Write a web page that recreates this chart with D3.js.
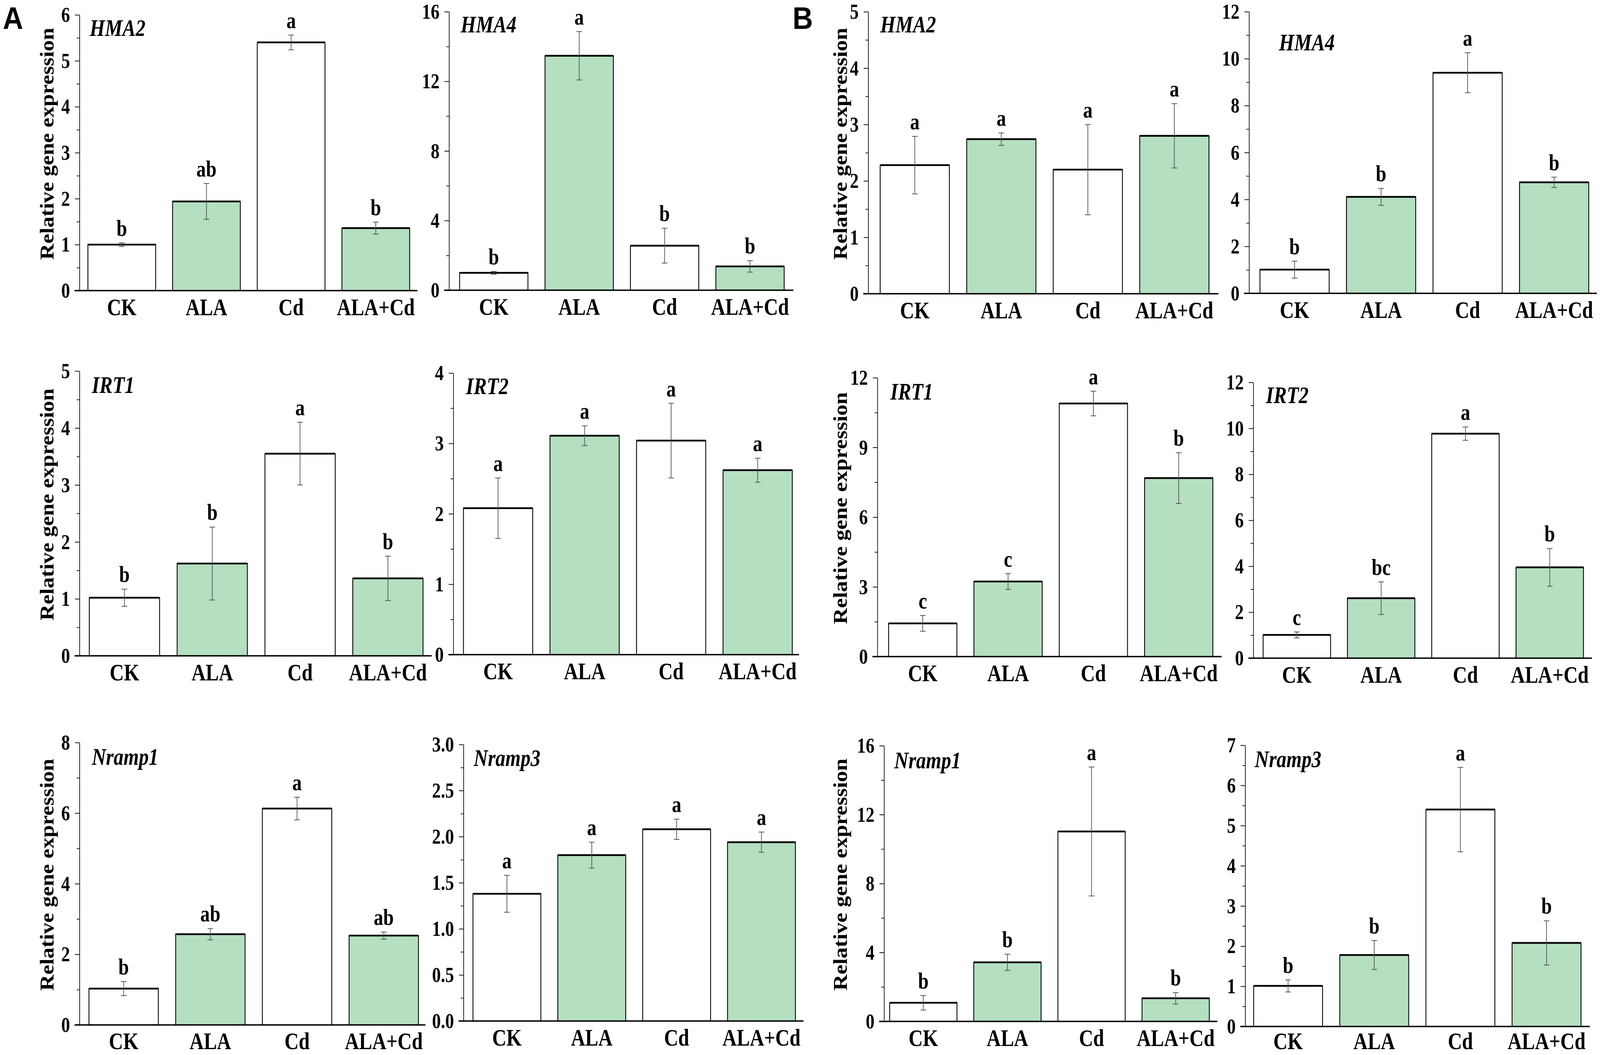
<!DOCTYPE html>
<html>
<head>
<meta charset="utf-8">
<script src="https://cdn.jsdelivr.net/npm/d3@7"></script>
<style>
  html, body { margin: 0; padding: 0; background: #fff; overflow: hidden; }
  svg { display: block; width: 100vw; height: 100vh; }
</style>
</head>
<body>
<div id="chart"></div>
<script>
// treatment groups, same order in every panel
const groups = ["CK", "ALA", "Cd", "ALA+Cd"];

// panel A (left half)
const meanA_HMA2 = [1.00, 1.94, 5.40, 1.36];
const errA_HMA2  = [0.04, 0.39, 0.16, 0.13];
const sigA_HMA2  = ["b", "ab", "a", "b"];

const meanA_HMA4 = [1.00, 13.47, 2.56, 1.37];
const errA_HMA4  = [0.08, 1.39, 1.00, 0.33];
const sigA_HMA4  = ["b", "a", "b", "b"];

const meanA_IRT1 = [1.02, 1.62, 3.55, 1.36];
const errA_IRT1  = [0.15, 0.64, 0.55, 0.39];
const sigA_IRT1  = ["b", "b", "a", "b"];

const meanA_IRT2 = [2.08, 3.11, 3.04, 2.62];
const errA_IRT2  = [0.43, 0.14, 0.53, 0.17];
const sigA_IRT2  = ["a", "a", "a", "a"];

const meanA_Nramp1 = [1.03, 2.57, 6.13, 2.53];
const errA_Nramp1  = [0.20, 0.16, 0.32, 0.10];
const sigA_Nramp1  = ["b", "ab", "a", "ab"];

const meanA_Nramp3 = [1.38, 1.80, 2.08, 1.94];
const errA_Nramp3  = [0.20, 0.14, 0.11, 0.11];
const sigA_Nramp3  = ["a", "a", "a", "a"];

// panel B (right half)
const meanB_HMA2 = [2.28, 2.74, 2.20, 2.80];
const errB_HMA2  = [0.51, 0.11, 0.80, 0.57];
const sigB_HMA2  = ["a", "a", "a", "a"];

const meanB_HMA4 = [1.01, 4.11, 9.40, 4.73];
const errB_HMA4  = [0.36, 0.36, 0.85, 0.22];
const sigB_HMA4  = ["b", "b", "a", "b"];

const meanB_IRT1 = [1.43, 3.23, 10.89, 7.68];
const errB_IRT1  = [0.34, 0.34, 0.53, 1.09];
const sigB_IRT1  = ["c", "c", "a", "b"];

const meanB_IRT2 = [1.01, 2.61, 9.77, 3.95];
const errB_IRT2  = [0.13, 0.71, 0.29, 0.82];
const sigB_IRT2  = ["c", "bc", "a", "b"];

const meanB_Nramp1 = [1.08, 3.43, 11.02, 1.34];
const errB_Nramp1  = [0.42, 0.47, 3.74, 0.33];
const sigB_Nramp1  = ["b", "b", "a", "b"];

const meanB_Nramp3 = [1.01, 1.78, 5.40, 2.08];
const errB_Nramp3  = [0.15, 0.36, 1.05, 0.55];
const sigB_Nramp3  = ["b", "b", "a", "b"];

// y axis ticks (major) per panel
const ticksA_HMA2   = [0, 1, 2, 3, 4, 5, 6];
const ticksA_HMA4   = [0, 4, 8, 12, 16];
const ticksA_IRT1   = [0, 1, 2, 3, 4, 5];
const ticksA_IRT2   = [0, 1, 2, 3, 4];
const ticksA_Nramp1 = [0, 2, 4, 6, 8];
const ticksA_Nramp3 = [0, 0.5, 1.0, 1.5, 2.0, 2.5, 3.0];
const ticksB_HMA2   = [0, 1, 2, 3, 4, 5];
const ticksB_HMA4   = [0, 2, 4, 6, 8, 10, 12];
const ticksB_IRT1   = [0, 3, 6, 9, 12];
const ticksB_IRT2   = [0, 2, 4, 6, 8, 10, 12];
const ticksB_Nramp1 = [0, 4, 8, 12, 16];
const ticksB_Nramp3 = [0, 1, 2, 3, 4, 5, 6, 7];

const W = 4550, H = 2701;
const serif = "'Liberation Serif', 'Times New Roman', Times, serif";
const green = "#b4dfc0";
// the original lettering is a bit taller than plain Times
const stretch = "scale(1,1.09)";

// layout of each panel (in viewBox units)
const panels = [
  {gene: "HMA2",   mean: meanA_HMA2,   err: errA_HMA2,   sig: sigA_HMA2,   ticks: ticksA_HMA2,   fmt: "d",
   ax: 226,  top: 38,   bottom: 744,  barL: 250,  barR: 1165, axEnd: 1187, lx: 29, ly: 54, title: 152},
  {gene: "HMA4",   mean: meanA_HMA4,   err: errA_HMA4,   sig: sigA_HMA4,   ticks: ticksA_HMA4,   fmt: "d",
   ax: 1277, top: 30,   bottom: 743,  barL: 1307, barR: 2230, axEnd: 2256, lx: 33, ly: 53},
  {gene: "HMA2",   mean: meanB_HMA2,   err: errB_HMA2,   sig: sigB_HMA2,   ticks: ticksB_HMA2,   fmt: "d",
   ax: 2469, top: 30,   bottom: 752,  barL: 2503, barR: 3438, axEnd: 3465, lx: 34, ly: 53, title: 2408},
  {gene: "HMA4",   mean: meanB_HMA4,   err: errB_HMA4,   sig: sigB_HMA4,   ticks: ticksB_HMA4,   fmt: "d",
   ax: 3552, top: 30,   bottom: 751,  barL: 3583, barR: 4518, axEnd: 4541, lx: 85, ly: 99},
  {gene: "IRT1",   mean: meanA_IRT1,   err: errA_IRT1,   sig: sigA_IRT1,   ticks: ticksA_IRT1,   fmt: "d",
   ax: 226,  top: 950,  bottom: 1679, barL: 254,  barR: 1203, axEnd: 1228, lx: 35, ly: 56, title: 152},
  {gene: "IRT2",   mean: meanA_IRT2,   err: errA_IRT2,   sig: sigA_IRT2,   ticks: ticksA_IRT2,   fmt: "d",
   ax: 1289, top: 955,  bottom: 1676, barL: 1318, barR: 2253, axEnd: 2272, lx: 36, ly: 54},
  {gene: "IRT1",   mean: meanB_IRT1,   err: errB_IRT1,   sig: sigB_IRT1,   ticks: ticksB_IRT1,   fmt: "d",
   ax: 2495, top: 967,  bottom: 1681, barL: 2527, barR: 3449, axEnd: 3474, lx: 37, ly: 56, title: 2408},
  {gene: "IRT2",   mean: meanB_IRT2,   err: errB_IRT2,   sig: sigB_IRT2,   ticks: ticksB_IRT2,   fmt: "d",
   ax: 3564, top: 979,  bottom: 1685, barL: 3592, barR: 4503, axEnd: 4527, lx: 36, ly: 53},
  {gene: "Nramp1", mean: meanA_Nramp1, err: errA_Nramp1, sig: sigA_Nramp1, ticks: ticksA_Nramp1, fmt: "d",
   ax: 226,  top: 1901, bottom: 2624, barL: 253,  barR: 1190, axEnd: 1210, lx: 35, ly: 57, title: 152},
  {gene: "Nramp3", mean: meanA_Nramp3, err: errA_Nramp3, sig: sigA_Nramp3, ticks: ticksA_Nramp3, fmt: ".1f",
   ax: 1318, top: 1906, bottom: 2614, barL: 1345, barR: 2262, axEnd: 2285, lx: 29, ly: 55},
  {gene: "Nramp1", mean: meanB_Nramp1, err: errB_Nramp1, sig: sigB_Nramp1, ticks: ticksB_Nramp1, fmt: "d",
   ax: 2514, top: 1909, bottom: 2615, barL: 2530, barR: 3439, axEnd: 3462, lx: 29, ly: 58, title: 2408},
  {gene: "Nramp3", mean: meanB_Nramp3, err: errB_Nramp3, sig: sigB_Nramp3, ticks: ticksB_Nramp3, fmt: "d",
   ax: 3541, top: 1908, bottom: 2628, barL: 3565, barR: 4496, axEnd: 4521, lx: 27, ly: 56}
];

// lowest baseline allowed for the category labels so they stay on the page
const maxLabelBase = 2686;

// the drawing is laid out in 4550x2701 units and stretched to fill the window
const svg = d3.select("#chart")
    .append("svg")
    .attr("viewBox", `0 0 ${W} ${H}`)
    .attr("preserveAspectRatio", "none")
    .style("background", "#fff");

// A / B panel letters
svg.selectAll(".plabel")
    .data([{t: "A", x: 8}, {t: "B", x: 2254}])
    .enter().append("text")
    .attr("x", d => d.x)
    .attr("y", 74)
    .attr("font-family", "'Liberation Sans', Arial, sans-serif")
    .attr("font-weight", "bold")
    .attr("font-size", "80px")
    .text(d => d.t);

function drawPanel(p) {
    const yMax = p.ticks[p.ticks.length - 1];
    const step = p.ticks[1] - p.ticks[0];
    const y = d3.scaleLinear().domain([0, yMax]).range([p.bottom, p.top]);
    const x = d3.scaleBand().domain(groups).range([p.barL, p.barR]).paddingInner(0.2).paddingOuter(0);
    const rows = groups.map((g, i) => ({g: g, v: p.mean[i], e: p.err[i], s: p.sig[i], i: i}));

    const g = svg.append("g");

    // minor ticks
    const minor = d3.range(step / 2, yMax, step);
    g.append("g")
        .attr("transform", `translate(${p.ax},0)`)
        .call(d3.axisLeft(y).tickValues(minor).tickSize(8).tickFormat(""))
        .call(a => a.select(".domain").remove())
        .selectAll("line").attr("stroke", "#222").attr("stroke-width", 2);

    // major ticks + axis line
    const yAxis = g.append("g")
        .attr("transform", `translate(${p.ax},0)`)
        .call(d3.axisLeft(y).tickValues(p.ticks).tickSize(13).tickSizeOuter(0)
            .tickPadding(14).tickFormat(d3.format(p.fmt)));
    yAxis.select(".domain").attr("stroke", "#111").attr("stroke-width", 2);
    yAxis.selectAll("line").attr("stroke", "#111").attr("stroke-width", 2);
    yAxis.selectAll("text")
        .attr("font-family", serif)
        .attr("font-weight", "bold")
        .attr("font-size", "50px")
        .attr("fill", "#000")
        .attr("transform", "scale(1,1.1)");

    // bars
    g.selectAll(".bar")
        .data(rows)
        .enter().append("rect")
        .attr("x", d => x(d.g))
        .attr("y", d => y(d.v))
        .attr("width", x.bandwidth())
        .attr("height", d => y(0) - y(d.v))
        .attr("fill", d => d.i % 2 ? green : "#fff")
        .attr("stroke", "#000")
        .attr("stroke-width", 2.4);

    // heavier top edge on bars
    g.selectAll(".bartop")
        .data(rows)
        .enter().append("line")
        .attr("x1", d => x(d.g))
        .attr("x2", d => x(d.g) + x.bandwidth())
        .attr("y1", d => y(d.v))
        .attr("y2", d => y(d.v))
        .attr("stroke", "#000")
        .attr("stroke-width", 4.5);

    // error bars
    const cx = d => x(d.g) + x.bandwidth() / 2;
    const eb = g.selectAll(".err").data(rows).enter().append("g")
        .attr("stroke", "#555").attr("stroke-width", 2);
    eb.append("line")
        .attr("x1", cx).attr("x2", cx)
        .attr("y1", d => y(d.v + d.e)).attr("y2", d => y(d.v - d.e));
    eb.append("line")
        .attr("x1", d => cx(d) - 8).attr("x2", d => cx(d) + 8)
        .attr("y1", d => y(d.v + d.e)).attr("y2", d => y(d.v + d.e));
    eb.append("line")
        .attr("x1", d => cx(d) - 8).attr("x2", d => cx(d) + 8)
        .attr("y1", d => y(d.v - d.e)).attr("y2", d => y(d.v - d.e));

    // significance letters
    g.selectAll(".sig")
        .data(rows)
        .enter().append("text")
        .attr("transform", d => `translate(${cx(d)},${y(d.v + d.e) - 18}) ${stretch}`)
        .attr("text-anchor", "middle")
        .attr("font-family", serif)
        .attr("font-weight", "bold")
        .attr("font-size", "54px")
        .text(d => d.s);

    // x axis line (runs a little past the y axis on the left)
    g.append("line")
        .attr("x1", p.ax - 14)
        .attr("x2", p.axEnd)
        .attr("y1", y(0))
        .attr("y2", y(0))
        .attr("stroke", "#000")
        .attr("stroke-width", 3.4);

    // category labels, baseline about 63 units under the axis
    const base = Math.min(y(0) + 63, maxLabelBase);
    const pad = (base - y(0)) / 1.09 - 0.71 * 56;
    const xAxis = g.append("g")
        .attr("transform", `translate(0,${y(0)})`)
        .call(d3.axisBottom(x).tickSize(0).tickPadding(pad));
    xAxis.select(".domain").remove();
    xAxis.selectAll("text")
        .attr("font-family", serif)
        .attr("font-weight", "bold")
        .attr("font-size", "56px")
        .attr("fill", "#000")
        .attr("transform", stretch);

    // gene name
    g.append("text")
        .attr("transform", `translate(${p.ax + p.lx},${p.top + p.ly}) ${stretch}`)
        .attr("font-family", serif)
        .attr("font-weight", "bold")
        .attr("font-style", "italic")
        .attr("font-size", "56px")
        .text(p.gene);

    // y axis title, first column of each half only
    if (p.title) {
        const cy = (p.top + p.bottom) / 2 - 23;
        g.append("text")
            .attr("transform", `translate(${p.title},${cy}) rotate(-90)`)
            .attr("text-anchor", "middle")
            .attr("font-family", serif)
            .attr("font-weight", "bold")
            .attr("font-size", "57px")
            .text("Relative gene expression");
    }
}

panels.forEach(drawPanel);
</script>
</body>
</html>
